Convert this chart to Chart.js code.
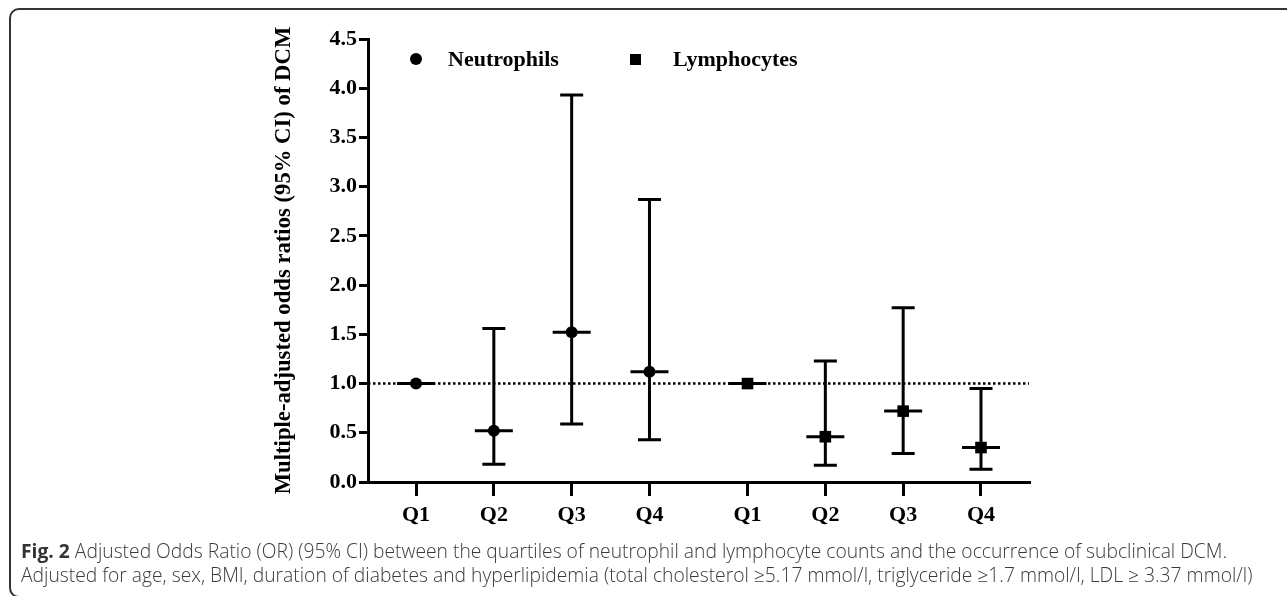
<!DOCTYPE html>
<html>
<head>
<meta charset="utf-8">
<script src="https://cdn.jsdelivr.net/npm/chart.js@4.4.1/dist/chart.umd.min.js"></script>
<style>
html,body{margin:0;padding:0;background:#fff;width:1287px;height:596px;overflow:hidden;}
#frame{position:absolute;left:9px;top:8px;width:1400px;height:590px;border:2px solid #333;border-radius:10px;box-sizing:border-box;}
#wrap{position:absolute;left:0;top:0;width:1287px;height:596px;}
.cap{position:absolute;left:21px;font-family:"Open Sans",sans-serif;font-weight:300;color:#3a3a3a;white-space:nowrap;font-size:17px;line-height:20px;}
.cap b{font-weight:700;color:#333;}
</style>
</head>
<body>
<div id="frame"></div>
<div id="wrap"><canvas id="c" width="1287" height="596"></canvas></div>
<div class="cap" id="cap1" style="top:541px"><b>Fig. 2</b> Adjusted Odds Ratio (OR) (95% CI) between the quartiles of neutrophil and lymphocyte counts and the occurrence of subclinical DCM.</div>
<div class="cap" id="cap2" style="top:565px">Adjusted for age, sex, BMI, duration of diabetes and hyperlipidemia (total cholesterol ≥5.17 mmol/l, triglyceride ≥1.7 mmol/l, LDL ≥ 3.37 mmol/l)</div>
<script>
// ---- data ----
const quartiles = ['Q1', 'Q2', 'Q3', 'Q4'];
const seriesNames = ['Neutrophils', 'Lymphocytes'];
const neutroOR   = [1.00, 0.52, 1.52, 1.12];
const neutroLow  = [1.00, 0.18, 0.59, 0.43];
const neutroHigh = [1.00, 1.56, 3.93, 2.87];
const lymphoOR   = [1.00, 0.46, 0.72, 0.35];
const lymphoLow  = [1.00, 0.17, 0.29, 0.13];
const lymphoHigh = [1.00, 1.23, 1.77, 0.95];
const yTicks = [0.0, 0.5, 1.0, 1.5, 2.0, 2.5, 3.0, 3.5, 4.0, 4.5];
const referenceOR = 1.0;
const yTitle = 'Multiple-adjusted odds ratios (95% CI) of DCM';

// ---- layout config ----
const groupGap = 1.26;   // extra spacing between the two groups (axis units)
const xPad = 0.617;      // axis margin either side
const neutroX = quartiles.map((q, i) => i + 1);
const lymphoX = quartiles.map((q, i) => i + 1 + quartiles.length + groupGap - 1);
const xTickVals = neutroX.concat(lymphoX);
const xTickLabels = quartiles.concat(quartiles);
const xMin = neutroX[0] - xPad;
const xMax = lymphoX[lymphoX.length - 1] + xPad;

const serif = '"Liberation Serif", "Times New Roman", serif';

// fit y title font size to reference length
const mctx = document.createElement('canvas').getContext('2d');
mctx.font = 'bold 22px ' + serif;
const titleSize = Math.round(22 * 468 / mctx.measureText(yTitle).width * 10) / 10;

// fit caption widths
(function(){
  const c2 = document.getElementById('cap2');
  const w = c2.getBoundingClientRect().width;
  const fs = 17 * 1232 / w;
  document.getElementById('cap1').style.fontSize = fs + 'px';
  c2.style.fontSize = fs + 'px';
})();

const errorBars = {
  id: 'errorBars',
  beforeDatasetsDraw(chart) {
    const {ctx, scales: {x, y}} = chart;
    const groups = [
      {xs: neutroX, or: neutroOR, lo: neutroLow, hi: neutroHigh},
      {xs: lymphoX, or: lymphoOR, lo: lymphoLow, hi: lymphoHigh}
    ];
    ctx.save();
    ctx.strokeStyle = '#000';
    ctx.lineWidth = 3;
    ctx.lineCap = 'butt';
    groups.forEach(g => {
      g.xs.forEach((xv, i) => {
        const px = x.getPixelForValue(xv);
        const pm = y.getPixelForValue(g.or[i]);
        const pl = y.getPixelForValue(g.lo[i]);
        const ph = y.getPixelForValue(g.hi[i]);
        ctx.beginPath();
        if (g.hi[i] !== g.lo[i]) {
          ctx.moveTo(px, ph); ctx.lineTo(px, pl);
          ctx.moveTo(px - 11.5, ph); ctx.lineTo(px + 11.5, ph);
          ctx.moveTo(px - 11.5, pl); ctx.lineTo(px + 11.5, pl);
        }
        ctx.moveTo(px - 19, pm); ctx.lineTo(px + 19, pm);
        ctx.stroke();
      });
    });
    ctx.restore();
  }
};

const legendPlugin = {
  id: 'customLegend',
  afterDraw(chart) {
    const ctx = chart.ctx;
    ctx.save();
    ctx.fillStyle = '#000';
    ctx.beginPath();
    ctx.arc(416, 59, 6, 0, Math.PI * 2);
    ctx.fill();
    ctx.fillRect(630, 54, 11, 11);
    ctx.font = 'bold 22px ' + serif;
    ctx.textBaseline = 'middle';
    ctx.textAlign = 'left';
    ctx.fillText(seriesNames[0], 448, 60);
    ctx.fillText(seriesNames[1], 673, 60);
    ctx.restore();
  }
};

const tickFont = {family: serif, weight: 'bold', size: 22};

new Chart(document.getElementById('c'), {
  type: 'scatter',
  data: {
    datasets: [
      {
        type: 'line',
        label: 'reference',
        data: [{x: xMin, y: referenceOR}, {x: xMax, y: referenceOR}],
        borderColor: '#000',
        borderWidth: 2.5,
        borderDash: [2.5, 2.5],
        pointRadius: 0,
        fill: false,
        order: 3
      },
      {
        label: seriesNames[0],
        data: neutroX.map((xv, i) => ({x: xv, y: neutroOR[i]})),
        pointStyle: 'circle',
        pointRadius: 6,
        backgroundColor: '#000',
        borderColor: '#000',
        borderWidth: 0,
        order: 1
      },
      {
        label: seriesNames[1],
        data: lymphoX.map((xv, i) => ({x: xv, y: lymphoOR[i]})),
        pointStyle: 'rect',
        pointRadius: 8.2,
        backgroundColor: '#000',
        borderColor: '#000',
        borderWidth: 0,
        order: 1
      }
    ]
  },
  options: {
    responsive: false,
    animation: false,
    devicePixelRatio: 1,
    layout: {padding: {left: 260, right: 258, top: 39, bottom: 54}},
    plugins: {legend: {display: false}, tooltip: {enabled: false}},
    scales: {
      x: {
        type: 'linear',
        min: xMin,
        max: xMax,
        afterBuildTicks: s => { s.ticks = xTickVals.map(v => ({value: v})); },
        ticks: {
          callback: (v, i) => xTickLabels[i],
          font: tickFont,
          color: '#000',
          padding: 6,
          autoSkip: false,
          maxRotation: 0
        },
        grid: {drawOnChartArea: false, drawTicks: true, tickLength: 14, color: '#000', lineWidth: 3},
        border: {display: true, color: '#000', width: 3},
        afterFit: s => { s.height = 60; }
      },
      y: {
        min: 0,
        max: 4.5,
        afterBuildTicks: s => { s.ticks = yTicks.map(v => ({value: v})); },
        ticks: {
          callback: v => Number(v).toFixed(1),
          font: tickFont,
          color: '#000',
          padding: 2
        },
        grid: {drawOnChartArea: false, drawTicks: true, tickLength: 9, color: '#000', lineWidth: 3},
        border: {display: true, color: '#000', width: 3},
        title: {
          display: true,
          text: yTitle,
          color: '#000',
          font: {family: serif, weight: 'bold', size: titleSize},
          padding: {top: 10.4, bottom: 0}
        },
        afterFit: s => { s.width = 108; }
      }
    }
  },
  plugins: [errorBars, legendPlugin]
});
</script>
</body>
</html>
